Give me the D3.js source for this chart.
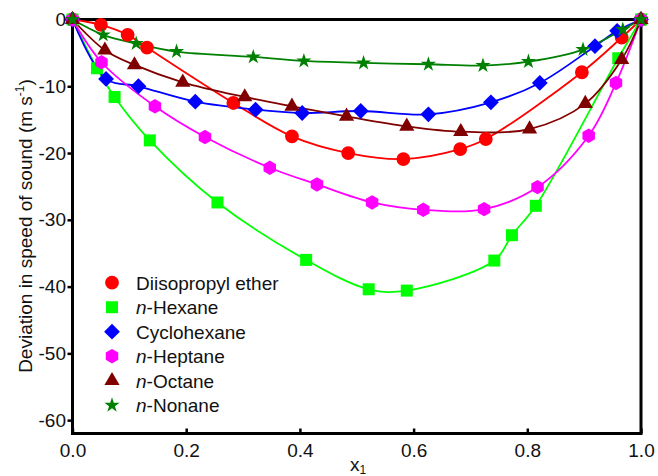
<!DOCTYPE html>
<html>
<head>
<meta charset="utf-8">
<script src="https://cdn.jsdelivr.net/npm/d3@7/dist/d3.min.js"></script>
<style>
  body { margin: 0; background: #fff; }
  text { font-family: "Liberation Sans", Arial, Helvetica, sans-serif; }
</style>
</head>
<body>
<div id="root"></div>
<script>
// Mole fraction x1 and deviation in speed of sound (m/s) for each binary mixture
const etherX = [0, 0.050, 0.097, 0.131, 0.283, 0.386, 0.485, 0.582, 0.682, 0.727, 0.896, 0.966, 1];
const etherY = [0, -0.8, -2.3, -4.2, -12.5, -17.5, -20.0, -20.9, -19.4, -17.9, -7.9, -2.7, 0];

const hexaneX = [0, 0.043, 0.074, 0.136, 0.255, 0.411, 0.521, 0.588, 0.742, 0.773, 0.815, 0.960, 1];
const hexaneY = [0, -7.3, -11.6, -18.1, -27.4, -36.0, -40.4, -40.6, -36.1, -32.3, -27.9, -5.8, 0];

const cycloX = [0, 0.059, 0.116, 0.216, 0.322, 0.404, 0.507, 0.626, 0.736, 0.822, 0.919, 0.958, 1];
const cycloY = [0, -8.9, -10.0, -12.3, -13.5, -14.0, -13.7, -14.2, -12.4, -9.5, -4.0, -1.7, 0];

const heptaneX = [0, 0.051, 0.145, 0.233, 0.347, 0.430, 0.527, 0.617, 0.724, 0.818, 0.908, 0.956, 1];
const heptaneY = [0, -6.4, -13.0, -17.6, -22.2, -24.7, -27.4, -28.5, -28.4, -25.1, -17.4, -9.5, 0];

const octaneX = [0, 0.057, 0.109, 0.194, 0.303, 0.386, 0.482, 0.588, 0.683, 0.804, 0.902, 0.966, 1];
const octaneY = [0, -4.6, -6.8, -9.4, -11.6, -13.0, -14.5, -16.0, -16.8, -16.4, -12.6, -6.0, 0];

const nonaneX = [0, 0.054, 0.112, 0.183, 0.318, 0.407, 0.512, 0.626, 0.722, 0.802, 0.898, 0.968, 1];
const nonaneY = [0, -2.3, -3.6, -4.8, -5.6, -6.2, -6.5, -6.7, -6.9, -6.3, -4.5, -1.5, 0];

const seriesNames = ['Diisopropyl ether', 'n-Hexane', 'Cyclohexane', 'n-Heptane', 'n-Octane', 'n-Nonane'];
const xTicks = [0, 0.2, 0.4, 0.6, 0.8, 1.0];
const yTicks = [0, -10, -20, -30, -40, -50, -60];

const config = {
  width: 658,
  height: 476,
  left: 72.5,
  top: 19.5,
  plotW: 568.5,
  plotH: 414
};

// custom marker shapes
const hexagon = {
  draw(context, size) {
    const r = Math.sqrt(size / (1.5 * Math.sqrt(3)));
    for (let i = 0; i < 6; i++) {
      const a = Math.PI / 2 + i * Math.PI / 3;
      const px = r * Math.cos(a), py = r * Math.sin(a);
      if (i === 0) context.moveTo(px, py); else context.lineTo(px, py);
    }
    context.closePath();
  }
};
const diamond = {
  draw(context, size) {
    const r = Math.sqrt(size / 2);
    context.moveTo(0, -r);
    context.lineTo(r, 0);
    context.lineTo(0, r);
    context.lineTo(-r, 0);
    context.closePath();
  }
};

const styles = [
  { colour: '#ff0000', symbol: d3.symbolCircle, size: 150 },
  { colour: '#00ff00', symbol: d3.symbolSquare, size: 144 },
  { colour: '#0000ff', symbol: diamond, size: 125 },
  { colour: '#ff00ff', symbol: hexagon, size: 135 },
  { colour: '#800000', symbol: d3.symbolTriangle, size: 100 },
  { colour: '#008000', symbol: d3.symbolStar, size: 72 }
];

const seriesX = [etherX, hexaneX, cycloX, heptaneX, octaneX, nonaneX];
const seriesY = [etherY, hexaneY, cycloY, heptaneY, octaneY, nonaneY];

const series = seriesNames.map((name, i) => ({
  name,
  style: styles[i],
  points: seriesX[i].map((x, j) => [x, seriesY[i][j]])
}));

const svg = d3.select('#root')
  .append('svg')
  .attr('width', config.width)
  .attr('height', config.height);

const x = d3.scaleLinear().domain([0, 1]).range([config.left, config.left + config.plotW]);
const y = d3.scaleLinear().domain([-62, 0]).range([config.top + config.plotH, config.top]);

// Axes
const xAxis = svg.append('g')
  .attr('transform', `translate(0,${config.top + config.plotH})`)
  .call(d3.axisBottom(x).tickValues(xTicks).tickSizeInner(-5).tickSizeOuter(0)
    .tickPadding(10).tickFormat(d3.format('.1f')));
const yAxis = svg.append('g')
  .attr('transform', `translate(${config.left},0)`)
  .call(d3.axisLeft(y).tickValues(yTicks).tickSizeInner(5).tickSizeOuter(0)
    .tickPadding(1.5).tickFormat(d => String(d)));

[xAxis, yAxis].forEach(g => {
  g.select('.domain').remove();
  g.selectAll('.tick line').attr('stroke', '#000').attr('stroke-width', 2.5);
  g.selectAll('.tick text').attr('font-size', 19).attr('fill', '#111');
});

// Frame
svg.append('rect')
  .attr('x', config.left)
  .attr('y', config.top)
  .attr('width', config.plotW)
  .attr('height', config.plotH)
  .attr('fill', 'none')
  .attr('stroke', '#000')
  .attr('stroke-width', 3);

// Lines
const line = d3.line()
  .x(d => x(d[0]))
  .y(d => y(d[1]))
  .curve(d3.curveCatmullRom.alpha(0.5));

svg.append('g').selectAll('path')
  .data(series)
  .enter()
    .append('path')
    .attr('d', d => line(d.points))
    .attr('fill', 'none')
    .attr('stroke', d => d.style.colour)
    .attr('stroke-width', 1.8);

// Markers
series.forEach(s => {
  const sym = d3.symbol().type(s.style.symbol).size(s.style.size);
  svg.append('g').selectAll('path')
    .data(s.points)
    .enter()
      .append('path')
      .attr('d', sym)
      .attr('transform', d => `translate(${x(d[0])},${y(d[1])})`)
      .attr('fill', s.style.colour);
});

// Legend
const legend = svg.append('g');
series.forEach((s, i) => {
  const cy = 282.7 + i * 24.5;
  legend.append('path')
    .attr('d', d3.symbol().type(s.style.symbol).size(s.style.size)())
    .attr('transform', `translate(112,${cy})`)
    .attr('fill', s.style.colour);
  const t = legend.append('text')
    .attr('x', 136)
    .attr('y', cy + 7)
    .attr('font-size', 19)
    .attr('fill', '#111');
  if (s.name.startsWith('n-')) {
    t.append('tspan').attr('font-style', 'italic').text('n');
    t.append('tspan').text(s.name.slice(1));
  } else {
    t.text(s.name);
  }
});

// Axis titles
const yTitle = svg.append('text')
  .attr('transform', 'translate(32,226) rotate(-90)')
  .attr('text-anchor', 'middle')
  .attr('font-size', 19)
  .attr('fill', '#111');
yTitle.append('tspan').text('Deviation in speed of sound (m s');
yTitle.append('tspan').attr('font-size', 12).attr('dy', -8).text('-1');
yTitle.append('tspan').attr('dy', 8).text(')');

const xTitle = svg.append('text')
  .attr('x', 350)
  .attr('y', 471)
  .attr('font-size', 19)
  .attr('fill', '#111');
xTitle.append('tspan').text('x');
xTitle.append('tspan').attr('font-size', 12).attr('dy', 3).text('1');
</script>
</body>
</html>
